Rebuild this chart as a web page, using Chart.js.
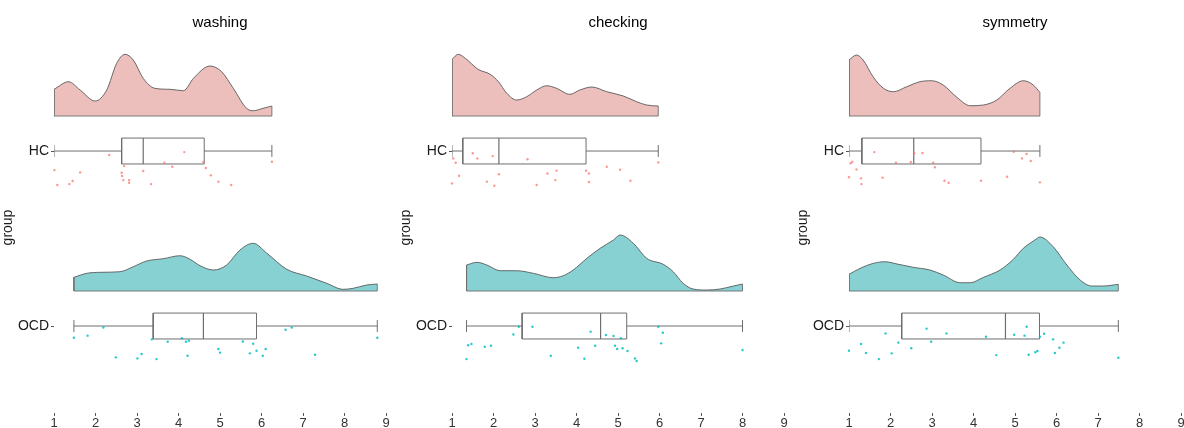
<!DOCTYPE html>
<html>
<head>
<meta charset="utf-8">
<script src="https://cdn.jsdelivr.net/npm/chart.js@4.4.1/dist/chart.umd.min.js"></script>
<style>
  html, body { margin: 0; padding: 0; background: #fff; overflow: hidden; }
  canvas { position: absolute; top: 0; }
  #washingChart { left: 0; }
  #checkingChart { left: 398px; }
  #symmetryChart { left: 795px; }
</style>
</head>
<body>
<canvas id="washingChart" width="390" height="428"></canvas>
<canvas id="checkingChart" width="390" height="428"></canvas>
<canvas id="symmetryChart" width="390" height="428"></canvas>
<script>
const groups = ["HC", "OCD"];
const groupPos = { HC: 2, OCD: 1 };
const xTicks = [1, 2, 3, 4, 5, 6, 7, 8, 9];

// washing
const washHcDensX = [1.0, 1.35, 1.63, 1.99, 2.27, 2.51, 2.71, 2.91, 3.15, 3.43, 3.8, 4.12, 4.36, 4.76, 5.04, 5.32, 5.64, 5.8, 6.04, 6.25];
const washHcDens = [26.7, 34.3, 26, 15, 26, 52.7, 61.7, 56, 37.7, 27.7, 26.7, 25.3, 37.7, 50, 44.3, 27.7, 7.7, 5.3, 7.7, 10];
const washHcBox = [1.0, 2.63, 3.15, 4.62, 6.25];
const washHcPtsX = [1.01, 1.08, 1.37, 1.45, 1.63, 2.33, 2.63, 2.64, 2.67, 2.69, 2.81, 2.81, 3.15, 3.34, 3.66, 3.85, 4.14, 4.6, 4.66, 4.78, 4.96, 5.27, 6.25];
const washHcPtsY = [1.891, 1.806, 1.811, 1.829, 1.878, 1.977, 1.876, 1.857, 1.834, 1.914, 1.834, 1.819, 1.886, 1.811, 1.933, 1.91, 1.994, 1.937, 1.903, 1.861, 1.825, 1.806, 1.939];

const washOcdDensX = [1.48, 1.79, 2.11, 2.59, 2.91, 3.23, 3.63, 4.04, 4.28, 4.52, 4.84, 5.16, 5.48, 5.8, 6.13, 6.61, 7.09, 7.57, 7.97, 8.21, 8.53, 8.79];
const washOcdDens = [13.7, 17.7, 18.7, 19.3, 24.3, 30, 32.3, 35.3, 31.7, 25.3, 21, 26, 41, 47.7, 37.7, 21.7, 15, 7.7, 1.7, 2.7, 6, 7];
const washOcdBox = [1.48, 3.39, 4.6, 5.88, 8.79];
const washOcdPtsX = [1.48, 1.81, 2.19, 2.49, 3.01, 3.11, 3.36, 3.47, 3.74, 4.08, 4.18, 4.25, 4.22, 4.96, 5.0, 5.55, 5.72, 5.8, 5.88, 6.03, 6.1, 6.58, 6.73, 7.29, 8.79];
const washOcdPtsY = [0.933, 0.945, 0.992, 0.821, 0.815, 0.84, 0.924, 0.811, 0.91, 0.93, 0.91, 0.916, 0.83, 0.869, 0.848, 0.912, 0.844, 0.899, 0.859, 0.83, 0.869, 0.979, 0.992, 0.836, 0.933];

// checking
const checkHcDensX = [1.0, 1.15, 1.32, 1.63, 1.92, 2.12, 2.32, 2.56, 2.8, 3.04, 3.28, 3.52, 3.84, 4.08, 4.37, 4.73, 5.13, 5.45, 5.69, 5.97];
const checkHcDens = [56.7, 61.7, 57.7, 46.7, 41.7, 34.3, 22.7, 16, 19.3, 26, 30.3, 27.7, 21.7, 26, 29, 24.3, 20, 14.3, 11, 10];
const checkHcBox = [1.0, 1.26, 2.13, 4.23, 5.97];
const checkHcPtsX = [1.0, 1.03, 1.09, 1.17, 1.5, 1.61, 1.84, 1.98, 2.02, 2.13, 2.82, 3.04, 3.3, 3.49, 3.52, 4.23, 4.3, 4.3, 4.73, 5.05, 5.3, 5.97];
const checkHcPtsY = [1.815, 1.958, 1.933, 1.859, 1.987, 1.958, 1.825, 1.971, 1.802, 1.867, 1.953, 1.806, 1.872, 1.834, 1.888, 1.888, 1.872, 1.823, 1.91, 1.893, 1.83, 1.935];

const checkOcdDensX = [1.35, 1.6, 1.84, 2.16, 2.56, 2.96, 3.44, 3.68, 3.92, 4.25, 4.57, 4.89, 5.05, 5.37, 5.69, 6.09, 6.33, 6.57, 6.81, 7.14, 7.46, 7.78, 8.0];
const checkOcdDens = [26, 28.7, 26, 20.3, 20.3, 17.7, 13.3, 15.3, 21, 32.7, 42.7, 51, 56, 47.7, 32.7, 26.7, 19.3, 7.7, 2, 1, 2, 5, 7];
const checkOcdBox = [1.35, 2.69, 4.58, 5.21, 8.0];
const checkOcdPtsX = [1.35, 1.39, 1.47, 1.79, 1.94, 2.48, 2.61, 2.94, 3.38, 4.04, 4.19, 4.34, 4.45, 4.71, 4.89, 4.93, 4.98, 5.07, 5.11, 5.23, 5.41, 5.45, 5.97, 6.04, 6.08, 8.0];
const checkOcdPtsY = [0.811, 0.89, 0.897, 0.882, 0.887, 0.952, 0.996, 0.996, 0.83, 0.876, 0.813, 0.968, 0.887, 0.949, 0.943, 0.887, 0.869, 0.93, 0.873, 0.857, 0.815, 0.8, 0.996, 0.901, 0.962, 0.863];

// symmetry
const symHcDensX = [1.0, 1.18, 1.34, 1.58, 1.83, 2.07, 2.39, 2.71, 2.99, 3.27, 3.6, 3.92, 4.24, 4.56, 4.88, 5.2, 5.44, 5.6];
const symHcDens = [56, 61, 56, 39.3, 27.7, 24.3, 29.3, 34.3, 35.3, 31, 18.7, 10.3, 11, 16, 27.7, 35.3, 31, 23.7];
const symHcBox = [1.0, 1.31, 2.56, 4.18, 5.6];
const symHcPtsX = [1.0, 1.04, 1.08, 1.18, 1.29, 1.3, 1.61, 1.81, 2.13, 2.49, 2.57, 2.77, 3.03, 3.07, 3.3, 3.4, 4.18, 4.81, 4.97, 5.17, 5.28, 5.38, 5.6];
const symHcPtsY = [1.85, 1.93, 1.939, 1.895, 1.844, 1.811, 1.994, 1.848, 1.933, 1.937, 1.987, 1.989, 1.933, 1.907, 1.83, 1.819, 1.83, 1.853, 1.996, 1.958, 1.983, 1.943, 1.821];

const symOcdDensX = [1.0, 1.27, 1.59, 1.87, 2.16, 2.55, 2.95, 3.27, 3.68, 3.92, 4.24, 4.64, 4.96, 5.2, 5.48, 5.6, 5.92, 6.25, 6.57, 6.85, 7.13, 7.49];
const symOcdDens = [16.7, 22.7, 27.7, 29.3, 27, 23.7, 21, 16, 8.3, 8.3, 13.7, 21, 31.7, 42.7, 51, 54, 44.3, 26, 11, 5, 5, 6.7];
const symOcdBox = [1.0, 2.27, 4.77, 5.59, 7.49];
const symOcdPtsX = [1.0, 1.29, 1.41, 1.72, 1.88, 2.03, 2.19, 2.5, 2.87, 2.98, 3.35, 4.3, 4.55, 4.98, 5.23, 5.28, 5.33, 5.49, 5.54, 5.6, 5.7, 5.92, 5.96, 6.07, 6.17, 7.49];
const symOcdPtsY = [0.859, 0.897, 0.846, 0.811, 0.958, 0.844, 0.905, 0.873, 0.985, 0.91, 0.958, 0.939, 0.834, 0.95, 0.945, 0.996, 0.836, 0.85, 0.857, 0.939, 0.956, 0.924, 0.846, 0.876, 0.905, 0.819];

Chart.defaults.font.family = "'Liberation Sans', Arial, sans-serif";

const DENS_SCALE = 1 / 175;
const BASE_OFF = 0.2;
const BOX_HALF = 0.074;
const CAP_HALF = 0.034;
const LINE_GREY = "#6e6e6e";
const colors = {
  HC: { fill: "#ecbfbc", point: "rgba(248, 118, 109, 0.75)" },
  OCD: { fill: "#87d1d3", point: "rgba(0, 191, 196, 0.85)" },
};

function seg(points, width, order) {
  return {
    data: points,
    showLine: true,
    pointRadius: 0,
    borderColor: LINE_GREY,
    borderWidth: width,
    fill: false,
    order: order,
  };
}

function groupSets(group, densX, dens, box, ptsX, ptsY) {
  const c = groupPos[group];
  const base = c + BASE_OFF;
  const curve = densX.map((x, i) => ({ x: x, y: base + dens[i] * DENS_SCALE }));
  const first = curve[0];
  const last = curve[curve.length - 1];
  const [mn, q1, md, q3, mx] = box;
  return [
    {
      data: curve,
      showLine: true,
      pointRadius: 0,
      borderColor: "#5a5a5a",
      borderWidth: 0.9,
      backgroundColor: colors[group].fill,
      fill: { value: base },
      cubicInterpolationMode: "monotone",
      order: 8,
    },
    seg([first, { x: first.x, y: base }, { x: last.x, y: base }, last], 0.9, 7),
    seg([{ x: mn, y: c }, { x: q1, y: c }], 1, 5),
    seg([{ x: q3, y: c }, { x: mx, y: c }], 1, 5),
    seg([{ x: mn, y: c - CAP_HALF }, { x: mn, y: c + CAP_HALF }], 1, 5),
    seg([{ x: mx, y: c - CAP_HALF }, { x: mx, y: c + CAP_HALF }], 1, 5),
    seg([
      { x: q1, y: c - BOX_HALF },
      { x: q3, y: c - BOX_HALF },
      { x: q3, y: c + BOX_HALF },
      { x: q1, y: c + BOX_HALF },
      { x: q1, y: c - BOX_HALF },
    ], 1, 4),
    seg([{ x: md, y: c - BOX_HALF }, { x: md, y: c + BOX_HALF }], 1.2, 3),
    {
      data: ptsX.map((x, i) => ({ x: x, y: ptsY[i] })),
      showLine: false,
      pointRadius: 1.2,
      pointBorderWidth: 0,
      pointBackgroundColor: colors[group].point,
      clip: 4,
      order: 0,
    },
  ];
}

function makePanel(id, title, hc, ocd) {
  const ctx = document.getElementById(id).getContext("2d");
  new Chart(ctx, {
    type: "scatter",
    data: {
      datasets: [...groupSets("HC", ...hc), ...groupSets("OCD", ...ocd)],
    },
    options: {
      responsive: false,
      animation: false,
      layout: { padding: { right: 4 } },
      plugins: {
        legend: { display: false },
        tooltip: { enabled: false },
        title: {
          display: true,
          text: title,
          fullSize: false,
          color: "#000",
          font: { size: 15, weight: "normal" },
          padding: { top: 14, bottom: 10 },
        },
      },
      scales: {
        x: {
          type: "linear",
          min: 1,
          max: 9,
          afterBuildTicks: (s) => {
            s.ticks = xTicks.map((v) => ({ value: v }));
          },
          afterFit: (s) => {
            s.height = 15;
          },
          grid: { drawOnChartArea: false, tickLength: 3, color: "#555" },
          border: { display: false },
          ticks: { color: "#333", font: { size: 13 }, padding: 0, maxRotation: 0 },
        },
        y: {
          type: "linear",
          min: 0.503,
          max: 2.623,
          afterBuildTicks: (s) => {
            s.ticks = groups.map((g) => ({ value: groupPos[g] }));
          },
          afterFit: (s) => {
            s.width = 54;
          },
          grid: { drawOnChartArea: false, tickLength: 3, color: "#555" },
          border: { display: false },
          ticks: {
            color: "#1a1a1a",
            font: { size: 14 },
            padding: 2,
            callback: (v) => groups.find((g) => groupPos[g] === v),
          },
          title: {
            display: true,
            text: "group",
            color: "#1a1a1a",
            font: { size: 14 },
            padding: { top: 0, bottom: 0 },
          },
        },
      },
    },
  });
}

makePanel("washingChart", "washing",
  [washHcDensX, washHcDens, washHcBox, washHcPtsX, washHcPtsY],
  [washOcdDensX, washOcdDens, washOcdBox, washOcdPtsX, washOcdPtsY]);
makePanel("checkingChart", "checking",
  [checkHcDensX, checkHcDens, checkHcBox, checkHcPtsX, checkHcPtsY],
  [checkOcdDensX, checkOcdDens, checkOcdBox, checkOcdPtsX, checkOcdPtsY]);
makePanel("symmetryChart", "symmetry",
  [symHcDensX, symHcDens, symHcBox, symHcPtsX, symHcPtsY],
  [symOcdDensX, symOcdDens, symOcdBox, symOcdPtsX, symOcdPtsY]);
</script>
</body>
</html>
